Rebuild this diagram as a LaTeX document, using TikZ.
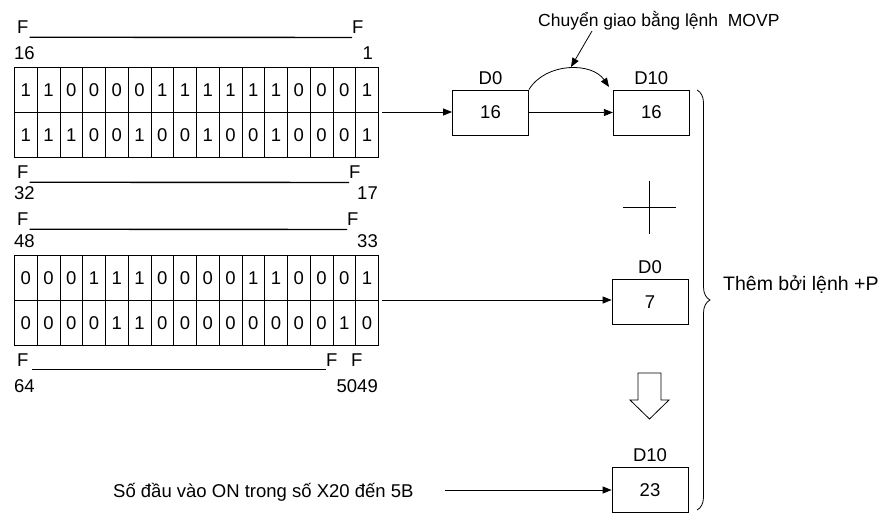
\documentclass[tikz,border=0pt]{standalone}
\usepackage{fontspec}
\setmainfont{Liberation Sans}
\usetikzlibrary{positioning,arrows.meta,decorations.pathreplacing}

\begin{document}
\begin{tikzpicture}[x=1pt,y=-1pt,
every node/.style={font=\fontsize{18.5}{22}\selectfont},
cell/.style={draw,line width=0.8pt,minimum width=22.75pt,minimum height=45pt,inner sep=0pt,anchor=north west},
reg/.style={draw,line width=0.8pt,minimum width=76pt,minimum height=45pt,inner sep=0pt},
lbl/.style={inner sep=0pt},
arr/.style={-{Triangle[length=9pt,width=7pt]},line width=0.8pt},
bar/.style={line width=1.4pt}]
\useasboundingbox (0,0) rectangle (894,512);
% bit cells
\foreach \b [count=\i] in {1,1,0,0,0,0,1,1,1,1,1,1,0,0,0,1}
  \node[cell] (a\i) at ({14+(\i-1)*22.75},67) {\b};
\foreach \b [count=\i] in {1,1,1,0,0,1,0,0,1,0,0,1,0,0,0,1}
  \node[cell] (b\i) at ({14+(\i-1)*22.75},112) {\b};
\foreach \b [count=\i] in {0,0,0,1,1,1,0,0,0,0,1,1,0,0,0,1}
  \node[cell] (c\i) at ({14+(\i-1)*22.75},255) {\b};
\foreach \b [count=\i] in {0,0,0,0,1,1,0,0,0,0,0,0,0,0,1,0}
  \node[cell] (d\i) at ({14+(\i-1)*22.75},300) {\b};
% bit numbers
\foreach \fy/\ny/\lo/\hi/\xf/\xn in {33/59/16/1/352/373,178/199/32/17/349/378,225/247/48/33/347/378}{
  \node[lbl,anchor=base west] (fl\lo) at (17,\fy) {F};
  \node[lbl,anchor=base west] (fr\lo) at (\xf,\fy) {F};
  \draw[bar] (fl\lo.south east) ++(1,4) -- (fr\lo.south west |- 0,{\fy+4.5});
  \node[lbl,anchor=base west] at (14,\ny) {\lo};
  \node[lbl,anchor=base east] at (\xn,\ny) {\hi};
}
\node[lbl,anchor=base west] (fl64) at (17,366) {F};
\node[lbl,anchor=base west] (fr50) at (326,366) {F};
\node[lbl,anchor=base west] (fr49) at (351,366) {F};
\draw[bar] (32,369.5) -- (326,369.5);
\node[lbl,anchor=base west] at (14,392) {64};
\node[lbl,anchor=base east] at (378,392) {5049};
% registers
\node[reg] (r1) at (490.5,112.5) {16};
\node[lbl,above=5pt of r1] {D0};
\node[reg,right=84pt of r1] (r2) {16};
\node[lbl,above=5pt of r2] {D10};
\node[reg] (r3) at (650,302) {7};
\node[lbl,above=5pt of r3] {D0};
\node[reg] (r4) at (650,490) {23};
\node[lbl,above=5pt of r4] {D10};
\draw[arr,shorten <=3pt] (b16.north east) -- (b16.north east -| r1.west);
\draw[arr] (r1) -- (r2);
\draw[arr,shorten <=3pt] (d16.north east) -- (d16.north east -| r3.west);
\node[lbl,anchor=base west] (cnt) at (113,497) {Số đầu vào ON trong số X20 đến 5B};
\draw[arr] (cnt.east |- r4) ++(31,0) -- (r4.west);
% MOVP transfer
\node[lbl,anchor=base west,font=\fontsize{17.5}{21}\selectfont] (movp) at (538,26) {Chuyển giao bằng lệnh\ \ MOVP};
\coordinate (top) at (571,67);
\coordinate (mv) at (592,31);
\draw[arr] (r1.north east) .. controls (546,62) and (592,62) .. (609,87);
\draw[arr] (mv) -- (top);
% plus and down arrow
\draw[line width=0.8pt] (623,207) -- (676,207) (649.5,181) -- (649.5,234);
\draw[line width=0.8pt] (638,373) -- (661,373) -- (661,400) -- (669,400) -- (649.5,419) -- (630,400) -- (638,400) -- cycle;
% brace
\draw[line width=0.8pt,decorate,decoration={brace,amplitude=13pt}] (697,90) -- (697,510);
\node[lbl,anchor=west,font=\fontsize{19.5}{23}\selectfont] (add) at (723,285) {Thêm bởi lệnh +P};
\end{tikzpicture}
\end{document}
